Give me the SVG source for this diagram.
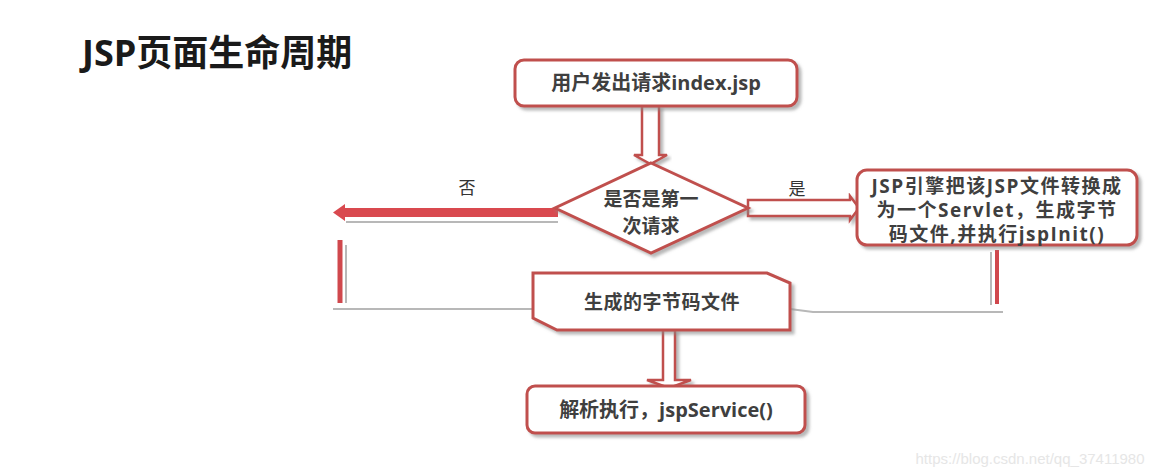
<svg xmlns="http://www.w3.org/2000/svg" width="1160" height="476" viewBox="0 0 1160 476">
<style>
.box{fill:#ffffff;stroke:#c0504d;stroke-width:3}
.t{font-family:"Open Sans","Noto Sans CJK SC",sans-serif;font-weight:bold;fill:#3f3f3f;text-anchor:middle}
.lbl{font-family:"Noto Sans CJK SC",sans-serif;fill:#333;text-anchor:middle;font-size:17px}
.hollow{fill:#ffffff;stroke:#c0504d;stroke-width:2.5;stroke-linejoin:miter}
.gray{stroke:#b8b8b8;stroke-width:2;fill:none}
</style>
<defs>
<filter id="sh" x="-10%" y="-10%" width="125%" height="140%">
<feDropShadow dx="3" dy="3" stdDeviation="1.5" flood-color="#888" flood-opacity="0.6"/>
</filter>
</defs>
<rect width="1160" height="476" fill="#ffffff"/>
<text x="82" y="66" font-family="Open Sans, Noto Sans CJK SC, sans-serif" font-weight="bold" font-size="36" fill="#1a1a1a">JSP页面生命周期</text>

<g id="connectors">
<polygon class="hollow" filter="url(#sh)" points="642,106 659,106 659,155 667,155 650.5,164 634,155 642,155"/>
<line class="gray" x1="346" y1="222" x2="558" y2="222"/>
<polygon fill="#d9494f" points="558,208 345,208 345,204 333,212.5 345,221 345,217 558,217"/>
<text class="lbl" x="467" y="194">否</text>
<polygon class="hollow" filter="url(#sh)" points="748,200 850,200 850,196 859,208 850,220 850,216 748,216"/>
<text class="lbl" x="797" y="195">是</text>
<line class="gray" x1="333" y1="309" x2="532" y2="309"/>
<line class="gray" x1="346" y1="245" x2="346" y2="303"/>
<line x1="340" y1="240" x2="340" y2="303" stroke="#d0484d" stroke-width="5"/>
<polyline class="gray" points="790,309 813,312 1003,312"/>
<line class="gray" x1="991" y1="252" x2="991" y2="305"/>
<line x1="997" y1="250" x2="997" y2="304" stroke="#d0484d" stroke-width="4"/>
<polygon class="hollow" filter="url(#sh)" points="663,330 675,330 675,380 691,380 669,388 647,380 663,380"/>
</g>

<g id="node-request">
<rect class="box" filter="url(#sh)" x="515" y="60" width="282" height="46" rx="9"/>
<text class="t" x="656" y="90" font-size="20">用户发出请求index.jsp</text>
</g>

<g id="node-decision">
<polygon class="box" filter="url(#sh)" points="651,163 748,208 651,253 555,208"/>
<text class="t" x="651" y="206" font-size="19">是否是第一</text>
<text class="t" x="651" y="233" font-size="19">次请求</text>
</g>

<g id="node-engine">
<rect class="box" filter="url(#sh)" x="857" y="170" width="280" height="75" rx="10"/>
<text class="t" x="997" y="193" font-size="19" letter-spacing="1.5">JSP引擎把该JSP文件转换成</text>
<text class="t" x="997" y="217" font-size="19" letter-spacing="1.5">为一个Servlet，生成字节</text>
<text class="t" x="997" y="241" font-size="19" letter-spacing="1.5">码文件,并执行jspInit()</text>
</g>

<g id="node-bytecode">
<polygon class="box" filter="url(#sh)" points="533,273 767,273 790,283 790,330 557,330 533,318"/>
<text class="t" x="662" y="309" font-size="19" letter-spacing="0.5">生成的字节码文件</text>
</g>

<g id="node-service">
<rect class="box" filter="url(#sh)" x="527" y="386" width="278" height="47" rx="8"/>
<text class="t" x="666" y="417" font-size="20">解析执行，jspService()</text>
</g>

<text x="1030" y="464" font-family="Liberation Sans, Arial, sans-serif" font-size="15" fill="#e6e6e6" text-anchor="middle">https://blog.csdn.net/qq_37411980</text>
</svg>
